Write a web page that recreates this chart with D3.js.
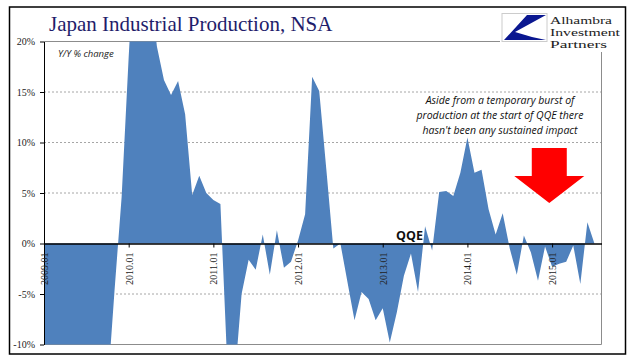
<!DOCTYPE html>
<html>
<head>
<meta charset="utf-8">
<script src="https://cdnjs.cloudflare.com/ajax/libs/d3/7.8.5/d3.min.js"></script>
<style>
body { margin:0; background:#fff; }
svg { display:block; }
.axis text { font-family:"Liberation Serif", serif; font-size:10px; fill:#222; }
.axis path, .axis line { stroke:#000; }
.grid { stroke:#a6a6a6; stroke-dasharray:2,2; }
.border { stroke:#8c8c8c; fill:none; }
</style>
</head>
<body>
<div id="chart"></div>
<script>
// Japan IP, Y/Y % change, NSA, monthly from 2009.01
var values2009 = [-30.8, -38.4, -34.2, -31.2, -29.5, -23.5, -22.9, -18.7, -19.3, -14.5, -4.6, 4.6];
var values2010 = [18.5, 31.0, 31.0, 25.9, 19.5, 16.2, 14.7, 16.1, 12.8, 4.8, 6.7, 5.0];
var values2011 = [4.3, 3.9, -12.5, -13.7, -5.0, -1.6, -2.6, 0.9, -3.1, 1.3, -2.4, -1.8];
var values2012 = [0.3, 2.9, 16.5, 15.1, 7.4, -0.5, 0.0, -3.8, -7.6, -4.8, -5.5, -7.6];
var values2013 = [-6.4, -9.8, -6.8, -3.2, -1.0, -4.8, 1.7, -0.7, 5.1, 5.2, 4.7, 7.0];
var values2014 = [10.5, 7.0, 7.3, 3.4, 0.9, 3.0, -0.5, -3.1, 0.8, -0.9, -3.7, -0.3];
var values2015 = [-2.3, -2.0, -1.8, -0.2, -4.0, 2.1, 0.0];

var xTickLabels = ["2009.01", "2010.01", "2011.01", "2012.01", "2013.01", "2014.01", "2015.01"];
var yTicks = [-10, -5, 0, 5, 10, 15, 20];
var gridTicks = [-5, 5, 10, 15];

var noteLines = ["Aside from a temporary burst of",
                 "production at the start of QQE there",
                 "hasn't been any sustained impact"];
var logoLines = ["Alhambra", "Investment", "Partners"];

var values = [].concat(values2009, values2010, values2011, values2012, values2013, values2014, values2015);
var data = values.map(function(v, i) { return {i: i, v: v}; });

var W = 641, H = 361;
var plot = {left: 44, right: 601.5, top: 41.5, bottom: 344.5};

var svg = d3.select("#chart").append("svg")
  .attr("width", W).attr("height", H);

// outer frame
svg.append("rect")
  .attr("x", 9.5).attr("y", 7).attr("width", 616).attr("height", 347)
  .attr("fill", "none").attr("stroke", "#000").attr("stroke-width", 1.5);

// x: month index, one extra slot at the end
var x = d3.scaleLinear().domain([0, values.length]).range([plot.left, plot.right]);
var y = d3.scaleLinear().domain([-10, 20]).range([plot.bottom, plot.top]);

// gridlines
svg.selectAll(".grid").data(gridTicks)
  .enter().append("line")
  .attr("class", "grid")
  .attr("x1", plot.left).attr("x2", plot.right)
  .attr("y1", function(d) { return y(d); })
  .attr("y2", function(d) { return y(d); });

// plot border (top is cut by the logo)
svg.append("path").attr("class", "border")
  .attr("d", "M" + plot.left + "," + plot.top + "H500" +
             "M" + plot.right + ",52V" + plot.bottom + "H" + plot.left);

svg.append("clipPath").attr("id", "clip")
  .append("rect")
  .attr("x", plot.left).attr("y", plot.top)
  .attr("width", plot.right - plot.left).attr("height", plot.bottom - plot.top);

var area = d3.area()
  .x(function(d) { return x(d.i); })
  .y0(y(0))
  .y1(function(d) { return y(d.v); });

svg.append("path")
  .datum(data)
  .attr("clip-path", "url(#clip)")
  .attr("fill", "#4f81bd")
  .attr("d", area);

// y axis
var yAxis = d3.axisLeft(y)
  .tickValues(yTicks)
  .tickFormat(function(d) { return d + "%"; })
  .tickSize(4).tickPadding(5).tickSizeOuter(0);

svg.append("g").attr("class", "axis y")
  .attr("transform", "translate(" + plot.left + ",0)")
  .call(yAxis)
  .selectAll("text").attr("dy", "0.3em");

// x axis at 0%
var xAxis = d3.axisBottom(x)
  .tickValues(xTickLabels.map(function(d, k) { return k * 12; }))
  .tickFormat(function(d) { return xTickLabels[d / 12]; })
  .tickSize(4).tickSizeOuter(0);

var gx = svg.append("g").attr("class", "axis x")
  .attr("transform", "translate(0," + y(0) + ")")
  .call(xAxis);
gx.select(".domain").attr("stroke-width", 1.5);
gx.selectAll("text")
  .attr("transform", "rotate(-90)")
  .attr("text-anchor", "end")
  .attr("x", -9).attr("y", 0)
  .attr("dy", "0.35em");

// title
svg.append("text")
  .attr("x", 49).attr("y", 31)
  .attr("fill", "#1f1d6b")
  .style("font-family", "'Liberation Serif', serif")
  .style("font-size", "21px")
  .text("Japan Industrial Production, NSA");

svg.append("text")
  .attr("x", 58).attr("y", 57)
  .attr("fill", "#222")
  .style("font-family", "'Open Sans', sans-serif")
  .style("font-style", "italic")
  .style("font-size", "9.5px")
  .text("Y/Y % change");

// note
svg.selectAll(".note").data(noteLines)
  .enter().append("text")
  .attr("class", "note")
  .attr("x", 500)
  .attr("y", function(d, i) { return 103.5 + i * 15; })
  .attr("text-anchor", "middle")
  .attr("fill", "#111")
  .style("font-family", "'Open Sans', sans-serif")
  .style("font-style", "italic")
  .style("font-size", "10.5px")
  .text(function(d) { return d; });

svg.append("text")
  .attr("x", 396).attr("y", 240)
  .attr("fill", "#111")
  .style("font-family", "'Open Sans', sans-serif")
  .style("font-weight", "bold")
  .style("font-size", "12.5px")
  .text("QQE");

// red arrow, tip placed on the chart scales
var tipX = x(71.6), tipY = y(4);
svg.append("path")
  .attr("fill", "#ff0000")
  .attr("d", "M" + (tipX - 17.5) + "," + (tipY - 55) +
             "h35v28h17.5L" + tipX + "," + tipY +
             "L" + (tipX - 35) + "," + (tipY - 27) + "h17.5Z");

// logo
var logo = svg.append("g");
logo.append("rect")
  .attr("x", 502).attr("y", 13.5).attr("width", 45).attr("height", 28)
  .attr("fill", "#fff").attr("stroke", "#ccc");
logo.append("path")
  .attr("fill", "#0a1790")
  .attr("d", "M527,15 L546,15 L515,32 Q530,37 546,40 L504,40 Z");
var logoWidths = [62, 70, 57];
logo.selectAll(".logo-text").data(logoLines)
  .enter().append("text")
  .attr("class", "logo-text")
  .attr("x", 550)
  .attr("y", function(d, i) { return 23.5 + i * 12.4; })
  .attr("textLength", function(d, i) { return logoWidths[i]; })
  .attr("lengthAdjust", "spacingAndGlyphs")
  .attr("fill", "#222")
  .style("font-family", "'Liberation Serif', serif")
  .style("font-size", "11px")
  .text(function(d) { return d; });
</script>
</body>
</html>
